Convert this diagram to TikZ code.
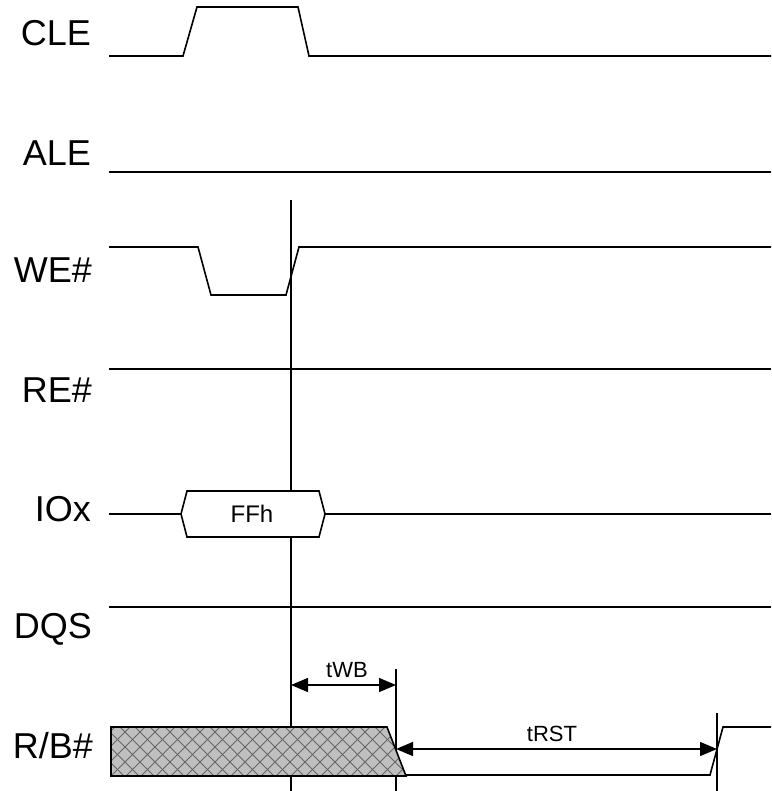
\documentclass[tikz,border=0pt]{standalone}
\usepackage{fontspec}
\setmainfont{Liberation Sans}
\usetikzlibrary{arrows.meta}
\begin{document}
\begin{tikzpicture}[x=1pt,y=-1pt,
  sig/.style={line width=1.6pt,line join=miter},
  siglabel/.style={anchor=east,inner sep=0pt,font=\fontsize{36}{40}\selectfont},
  smalllabel/.style={inner sep=0pt,font=\fontsize{22}{24}\selectfont},
  marker/.style={line width=1.4pt},
  dim/.style={line width=1.4pt,{Triangle[length=17pt,width=14pt]}-{Triangle[length=17pt,width=14pt]}},
  hatch/.style={draw=black!60,line width=0.9pt}]
\useasboundingbox (0,0) rectangle (771,791);

% labels
\node[siglabel] (lcle) at (91,33) {CLE};
\node[siglabel] (lale) at (91,153) {ALE};
\node[siglabel] (lwe) at (92,270) {WE\#};
\node[siglabel] (lre) at (92,390) {RE\#};
\node[siglabel] (lio) at (91,509) {IOx};
\node[siglabel] (ldqs) at (92,629) {DQS};
\node[siglabel] (lrb) at (93,746) {R/B\#};

% markers (drawn first so boxes cover them)
\coordinate (m1t) at (291,200);
\coordinate (m1b) at (291,791);
\coordinate (m2t) at (396,669);
\coordinate (m2b) at (396,791);
\coordinate (m3t) at (717,713);
\coordinate (m3b) at (717,791);
\draw[marker] (m1t) -- (m1b);
\draw[marker] (m2t) -- (m2b);
\draw[marker] (m3t) -- (m3b);

% CLE
\draw[sig] (109,56) -- (183,56) -- (197,7) -- (298,7) -- (309,56) -- (771,56);
% ALE
\draw[sig] (109,172) -- (771,172);
% WE#
\draw[sig] (109,247) -- (198,247) -- (211,295) -- (286,295) -- (299,247) -- (771,247);
% RE#
\draw[sig] (109,369) -- (771,369);
% IOx
\draw[sig] (109,514) -- (181,514);
\draw[sig,fill=white] (181,514) -- (187,491) -- (319,491) -- (325,514) -- (319,537) -- (187,537) -- cycle;
\draw[sig] (325,514) -- (771,514);
\node[smalllabel,font=\fontsize{24}{26}\selectfont] (ffh) at (252,514) {FFh};
% DQS
\draw[sig] (109,607) -- (771,607);

% R/B# hatched region
\fill[black!25] (111,727) -- (387,727) -- (406,776) -- (111,776) -- cycle;
\begin{scope}
  \clip (111,727) -- (387,727) -- (406,776) -- (111,776) -- cycle;
  \foreach \i in {0,...,24} {
    \draw[hatch] ({60+15*\i},727) -- ({60+15*\i+49},776);
    \draw[hatch] ({100+15*\i},727) -- ({100+15*\i-49},776);
  }
\end{scope}
\draw[sig] (111,727) -- (387,727) -- (406,776) -- (111,776) -- cycle;
\draw[sig] (406,775) -- (710,775) -- (723,727) -- (771,727);

% dimensions
\coordinate (wbl) at (291,685);
\coordinate (wbr) at (396,685);
\draw[dim] (wbl) -- (wbr);
\node[smalllabel] (twb) at (347,670) {tWB};
\coordinate (rsl) at (396,749);
\coordinate (rsr) at (717,749);
\draw[dim] (rsl) -- (rsr);
\node[smalllabel] (trst) at (552,734) {tRST};
\end{tikzpicture}
\end{document}
